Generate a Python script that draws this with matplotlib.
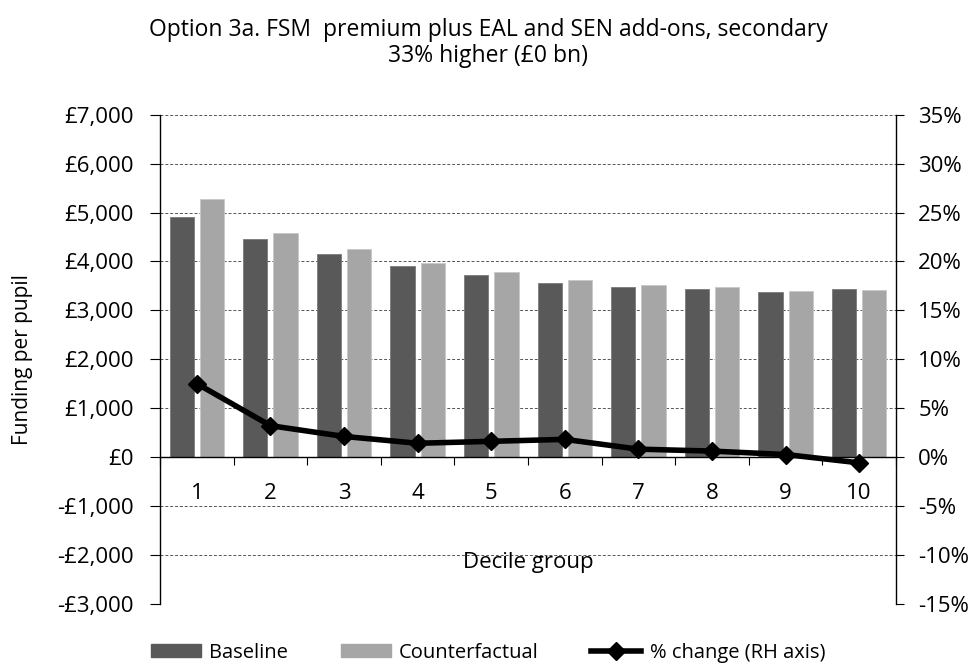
import matplotlib.pyplot as plt
import numpy as np
from matplotlib.lines import Line2D
from matplotlib.patches import Patch

deciles = ['1', '2', '3', '4', '5', '6', '7', '8', '9', '10']
baseline = [4900, 4450, 4160, 3910, 3720, 3555, 3486, 3445, 3384, 3445]
counterfactual = [5270, 4590, 4250, 3960, 3780, 3616, 3521, 3473, 3390, 3425]
pct_change = [7.5, 3.2, 2.1, 1.4, 1.6, 1.8, 0.8, 0.6, 0.25, -0.6]

left_ticks = [-3000, -2000, -1000, 0, 1000, 2000, 3000, 4000, 5000, 6000, 7000]
left_labels = ['-£3,000', '-£2,000', '-£1,000', '£0', '£1,000', '£2,000',
               '£3,000', '£4,000', '£5,000', '£6,000', '£7,000']
right_ticks = [-15, -10, -5, 0, 5, 10, 15, 20, 25, 30, 35]
right_labels = ['-15%', '-10%', '-5%', '0%', '5%', '10%', '15%', '20%',
                '25%', '30%', '35%']

DARK, LIGHT = '#595959', '#a6a6a6'
FONT = ['Open Sans', 'DejaVu Sans']
plt.rcParams['font.family'] = FONT

fig = plt.figure(figsize=(9.76, 6.64), dpi=100)
ax = fig.add_axes([0.164, 0.091, 0.754, 0.736])

x = np.arange(len(deciles))
w = 0.33
ax.bar(x - 0.206, baseline, w, color=DARK, edgecolor='#7a7a7a', linewidth=0.6, zorder=3)
ax.bar(x + 0.206, counterfactual, w, color=LIGHT, edgecolor='#c8c8c8', linewidth=0.6, zorder=3)

ax.set_xlim(-0.5, len(deciles) - 0.5)
ax.set_ylim(-3000, 7000)
ax.set_yticks(left_ticks)
ax.set_yticklabels(left_labels, fontsize=16)
ax.tick_params(axis='y', direction='out', length=7, width=0.8, pad=12)
for t in left_ticks:
    if t != 0:
        ax.axhline(t, color='#555555', linestyle=(0, (3, 2)), linewidth=0.7, zorder=1)

# x axis sits at zero
ax.spines['top'].set_visible(False)
ax.spines['bottom'].set_position(('data', 0))
ax.spines['bottom'].set_linewidth(1.0)
ax.spines['bottom'].set_zorder(4)
ax.spines['left'].set_linewidth(1.0)
ax.spines['right'].set_visible(False)
ax.set_xticks(np.arange(len(deciles) + 1) - 0.5)
ax.set_xticklabels([])
ax.tick_params(axis='x', which='major', direction='out', length=6, width=0.8)
ax.set_xticks(x, minor=True)
ax.set_xticklabels(deciles, minor=True, fontsize=16)
ax.tick_params(axis='x', which='minor', length=0, pad=19)

ax.set_ylabel('Funding per pupil', fontsize=15)
ax.yaxis.set_label_coords(-0.172, 0.5)
ax.text(0.5, 0.085, 'Decile group', transform=ax.transAxes, ha='center', va='center',
        fontsize=16)

ax2 = ax.twinx()
ax2.set_ylim(-15, 35)
ax2.plot(x, pct_change, color='black', linewidth=4, marker='D', markersize=9, zorder=5)
ax2.set_yticks(right_ticks)
ax2.set_yticklabels(right_labels, fontsize=16)
ax2.tick_params(axis='y', direction='out', length=6, width=0.8, pad=10)
for s in ['top', 'bottom', 'left']:
    ax2.spines[s].set_visible(False)
ax2.spines['right'].set_linewidth(1.0)

fig.text(0.5, 0.935, 'Option 3a. FSM  premium plus EAL and SEN add-ons, secondary\n33% higher (£0 bn)',
         ha='center', va='center', fontsize=16.5, linespacing=1.1)

handles = [Patch(color=DARK), Patch(color=LIGHT),
           Line2D([], [], color='black', linewidth=4, marker='D', markersize=9)]
fig.legend(handles, ['Baseline', 'Counterfactual', '% change (RH axis)'],
           loc='center', bbox_to_anchor=(0.5, 0.017), ncol=3, frameon=False,
           prop={'size': 14.5}, handlelength=2.5, handleheight=0.6, columnspacing=2.6,
           handletextpad=0.4)

fig.savefig('out.png', dpi=100)
